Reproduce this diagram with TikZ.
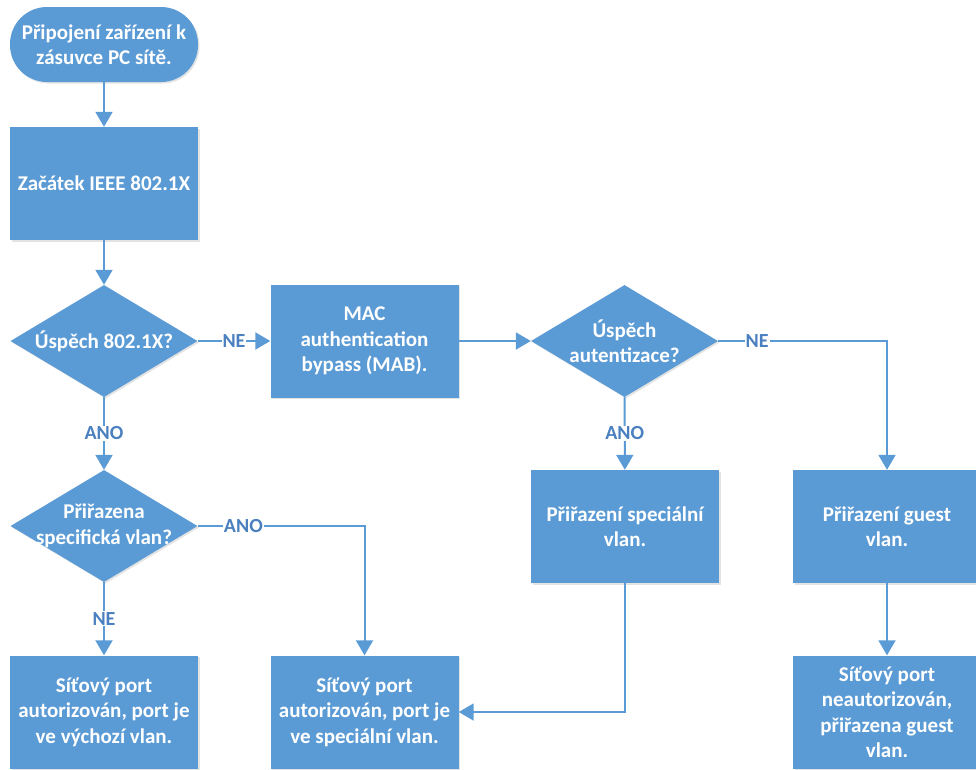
\documentclass[tikz,border=0pt]{standalone}
\usepackage{fontspec}
\setmainfont{Carlito}
\usetikzlibrary{arrows.meta,shapes.geometric,shadows}
\definecolor{fblue}{HTML}{5B9BD5}
\definecolor{lblue}{HTML}{4A80BF}
\begin{document}
\begin{tikzpicture}[x=1pt,y=-1pt,
  txt/.style={text=white, font=\bfseries\fontsize{21}{25.5}\selectfont, align=center},
  base/.style={txt, fill=fblue, draw=none, inner sep=0pt,
    drop shadow={shadow xshift=1.5pt, shadow yshift=-1.5pt, opacity=0.22}},
  box/.style={base, rectangle, minimum width=188pt, minimum height=113pt},
  term/.style={base, rectangle, rounded corners=37pt, minimum width=188pt, minimum height=75pt},
  dia/.style={base, diamond, minimum width=187pt, minimum height=112pt},
  conn/.style={draw=fblue, line width=2pt, -{Triangle[width=17pt,length=15pt]}},
  lab/.style={fill=white, text=lblue, font=\bfseries\fontsize{20}{22}\selectfont, inner sep=1pt}]
\useasboundingbox (0,0) rectangle (976,769);
\clip (0,0) rectangle (976,769);

\node[term] (start) at (104,44.5) {Připojení zařízení k\\zásuvce PC sítě.};
\node[box] (begin) at (104,183.5) {Začátek IEEE 802.1X};
\node[dia, label={[txt]center:Úspěch 802.1X?}] (d1) at (104,341) {};
\node[box] (mab) at (364.5,341) {MAC\\authentication\\bypass (MAB).};
\node[dia, label={[txt]center:Úspěch\\autentizace?}] (d2) at (624.5,341) {};
\node[box] (spec) at (625,526.5) {Přiřazení speciální\\vlan.};
\node[box] (guest) at (887,526.5) {Přiřazení guest\\vlan.};
\node[dia, label={[txt]center:Přiřazena\\specifická vlan?}] (d3) at (104,526) {};
\node[box] (auth1) at (104,712) {Síťový port\\autorizován, port je\\ve výchozí vlan.};
\node[box] (auth2) at (364.5,712) {Síťový port\\autorizován, port je\\ve speciální vlan.};
\node[box] (gport) at (887,712) {Síťový port\\neautorizován,\\přiřazena guest\\vlan.};

\draw[conn] (start) -- (begin);
\draw[conn] (begin) -- (d1);
\draw[conn] (d1) -- node[lab]{NE} (mab);
\draw[conn] (mab) -- (d2);
\draw[conn] (d2.east) -| node[lab, pos=0.115]{NE} (guest.north);
\draw[conn] (d2) -- node[lab]{ANO} (spec);
\draw[conn] (d1) -- node[lab]{ANO} (d3);
\draw[conn] (d3.east) -| node[lab, pos=0.137]{ANO} (auth2.north);
\draw[conn] (d3) -- node[lab]{NE} (auth1);
\draw[conn] (guest) -- (gport);
\draw[conn] (spec.south) |- (auth2.east);
\end{tikzpicture}
\end{document}
